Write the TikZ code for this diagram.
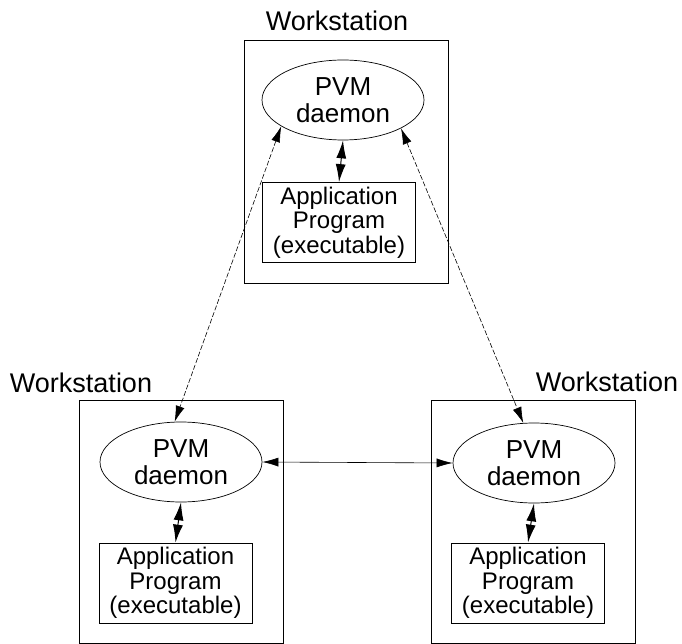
\documentclass[tikz,border=0pt]{standalone}
\usepackage{fontspec}
\setmainfont{Liberation Sans}
\usetikzlibrary{shapes.geometric,arrows.meta}
\begin{document}
\begin{tikzpicture}[x=1pt,y=1pt]
		\tikzstyle{every node}+=[inner sep=0pt]
		\tikzstyle{wsbox}=[draw, line width=0.9pt, minimum width=204pt, minimum height=243pt]
		\tikzstyle{daemon}=[draw, ellipse, line width=0.7pt, minimum width=162pt, minimum height=80pt, align=center, font=\fontsize{26}{27}\selectfont]
		\tikzstyle{appbox}=[draw, line width=0.8pt, minimum width=153pt, minimum height=80pt, align=center, font=\fontsize{24}{24.5}\selectfont]
		\tikzstyle{wslabel}=[font=\fontsize{27}{28}\selectfont]
		\tikzstyle{local}=[{Latex[length=18pt,width=10pt]}-{Latex[length=18pt,width=10pt]}, line width=1pt]
		\tikzstyle{link}=[{Latex[length=16pt,width=9pt]}-{Latex[length=16pt,width=9pt]}, line width=0.6pt]
		\useasboundingbox (0,0) rectangle (682,-644);
		% top workstation
		\node [wsbox] (ws1) at (346,-161.5) {};
		\node [wslabel] (lab1) at (337,-21) {Workstation};
		\node [daemon] (pvm1) at (343,-100) {PVM\\daemon};
		\node [appbox] (app1) at (339,-222.5) {Application\\Program\\(executable)};
		% bottom left workstation
		\node [wsbox] (ws2) at (181,-522) {};
		\node [wslabel] (lab2) at (81,-383) {Workstation};
		\node [daemon] (pvm2) at (181,-462) {PVM\\daemon};
		\node [appbox] (app2) at (175.5,-583) {Application\\Program\\(executable)};
		% bottom right workstation
		\node [wsbox] (ws3) at (533.5,-522) {};
		\node [wslabel] (lab3) at (607,-382) {Workstation};
		\node [daemon] (pvm3) at (534,-463) {PVM\\daemon};
		\node [appbox] (app3) at (528,-583) {Application\\Program\\(executable)};
		% daemon <-> program
		\draw [local] (pvm1.south) -- (app1.north);
		\draw [local] (pvm2.south) -- (app2.north);
		\draw [local] (pvm3.south) -- (app3.north);
		% daemon <-> daemon
		\draw [link, dash pattern=on 5pt off 2pt] (pvm1.203) -- (pvm2.99);
		\draw [link, dash pattern=on 5pt off 2pt] (pvm1.334) -- (pvm3.105);
		\draw [link] (pvm2.east) -- (pvm3.west);
\end{tikzpicture}
\end{document}
